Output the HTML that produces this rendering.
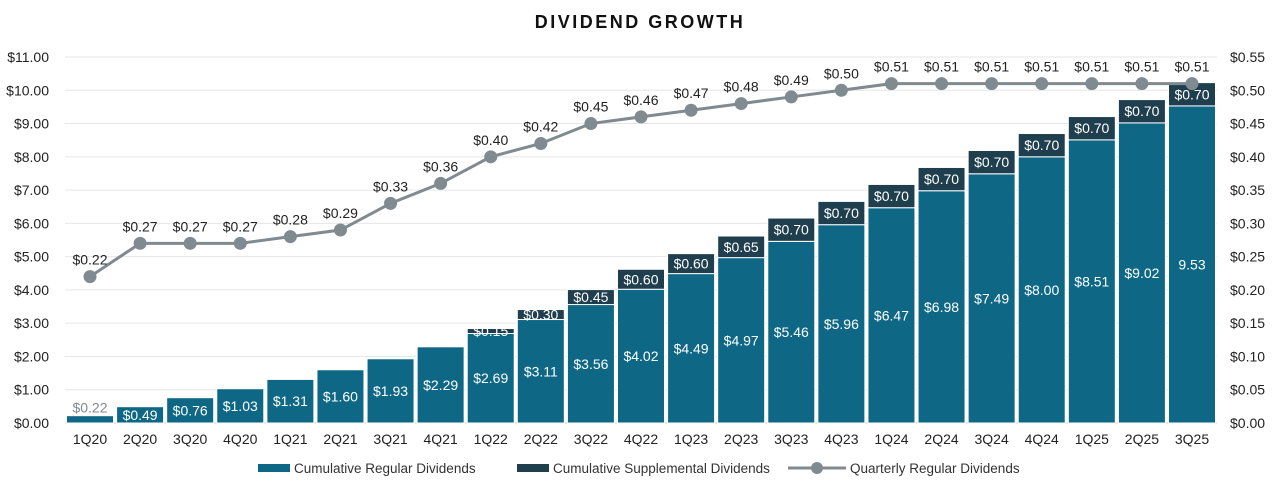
<!DOCTYPE html>
<html><head><meta charset="utf-8"><style>
body{margin:0;background:#fff;font-family:"Liberation Sans",sans-serif}
svg text{font-family:"Liberation Sans",sans-serif}
</style></head><body>
<svg id="c" width="1280" height="494" viewBox="0 0 1280 494">
<text x="640" y="28" text-anchor="middle" font-size="18" font-weight="bold" letter-spacing="2.5" fill="#111">DIVIDEND GROWTH</text>
<g id="grid"></g><g id="bars"></g><g id="line"></g><g id="axes"></g>
<g>
<rect x="258" y="464" width="32" height="8" fill="#0e6785"/>
<text x="294" y="473" font-size="13.5" fill="#333">Cumulative Regular Dividends</text>
<rect x="517" y="464" width="32" height="8" fill="#1f3f4f"/>
<text x="553" y="473" font-size="13.5" fill="#333">Cumulative Supplemental Dividends</text>
<line x1="788" y1="468" x2="846" y2="468" stroke="#808a91" stroke-width="3"/>
<circle cx="817" cy="468" r="6" fill="#808a91"/>
<text x="850" y="473" font-size="13.5" fill="#333">Quarterly Regular Dividends</text>
</g>
</svg>
<script>
const categories=["1Q20","2Q20","3Q20","4Q20","1Q21","2Q21","3Q21","4Q21","1Q22","2Q22","3Q22","4Q22","1Q23","2Q23","3Q23","4Q23","1Q24","2Q24","3Q24","4Q24","1Q25","2Q25","3Q25"];
const regular=[0.22,0.49,0.76,1.03,1.31,1.60,1.93,2.29,2.69,3.11,3.56,4.02,4.49,4.97,5.46,5.96,6.47,6.98,7.49,8.00,8.51,9.02,9.53];
const supplemental=[0,0,0,0,0,0,0,0,0.15,0.30,0.45,0.60,0.60,0.65,0.70,0.70,0.70,0.70,0.70,0.70,0.70,0.70,0.70];
const quarterly=[0.22,0.27,0.27,0.27,0.28,0.29,0.33,0.36,0.40,0.42,0.45,0.46,0.47,0.48,0.49,0.50,0.51,0.51,0.51,0.51,0.51,0.51,0.51];
const leftTicks=[0,1,2,3,4,5,6,7,8,9,10,11];
const rightTicks=[0,0.05,0.10,0.15,0.20,0.25,0.30,0.35,0.40,0.45,0.50,0.55];
const NS="http://www.w3.org/2000/svg";
const y0=423,y1=57,xl=65,xr=1217;
const yL=v=>y0-(v/11)*(y0-y1);
const yR=v=>y0-(v/0.55)*(y0-y1);
const step=(1192-90)/(categories.length-1);
const xC=i=>90+i*step;
const bw=47;
const FS=14;
function mk(tag,attrs,parent,txt){const e=document.createElementNS(NS,tag);for(const k in attrs)e.setAttribute(k,attrs[k]);if(txt!==undefined)e.textContent=txt;document.getElementById(parent).appendChild(e);return e;}
leftTicks.forEach(t=>{
 const g=mk("line",{x1:xl,x2:xr,y1:yL(t),y2:yL(t),stroke:t===0?"#d0d0d0":"#e6e6e6","stroke-width":1},"grid");
 
 
 const l=mk("text",{x:49,y:yL(t)+5,"text-anchor":"end","font-size":FS,fill:"#222"},"axes","$"+t.toFixed(2));
 
 
});
rightTicks.forEach(t=>{
 const l=mk("text",{x:1230,y:yR(t)+5,"font-size":FS,fill:"#222"},"axes","$"+t.toFixed(2));
 
 
});
categories.forEach((c,i)=>{
 const x=xC(i);
 const l=mk("text",{x:x,y:444,"text-anchor":"middle","font-size":FS,fill:"#222"},"axes",c);
 
 
 const r=mk("rect",{x:x-bw/2,y:yL(regular[i]),width:bw,height:y0-yL(regular[i]),fill:"#0e6785",stroke:"#fff","stroke-width":1},"bars");
 
 
 const tot=regular[i]+supplemental[i];
 if(supplemental[i]>0){
  const s=mk("rect",{x:x-bw/2,y:yL(tot),width:bw,height:yL(regular[i])-yL(tot),fill:"#1f3f4f",stroke:"#fff","stroke-width":1},"bars");
  
  
  const sl=mk("text",{x:x,y:(yL(tot)+yL(regular[i]))/2+5,"text-anchor":"middle","font-size":FS,fill:"#fff"},"bars","$"+supplemental[i].toFixed(2));
  
  
 }
 let ly,fill="#fff",txt=(i===categories.length-1?"":"$")+regular[i].toFixed(2);
 if(i===0){ly=yL(regular[i])-3;fill="#808a91";}
 else ly=(yL(regular[i])+y0)/2+5;
 const rl=mk("text",{x:x,y:ly,"text-anchor":"middle","font-size":FS,fill:fill},"bars",txt);
 
 
});
const pts=quarterly.map((v,i)=>xC(i)+","+yR(v)).join(" ");
const pl=mk("polyline",{points:pts,fill:"none",stroke:"#808a91","stroke-width":3},"line");


quarterly.forEach((v,i)=>{
 const c=mk("circle",{cx:xC(i),cy:yR(v),r:6.5,fill:"#808a91"},"line");
 
 
 const t=mk("text",{x:xC(i),y:yR(v)-12,"text-anchor":"middle","font-size":FS,fill:"#222"},"line","$"+v.toFixed(2));
 
 
});
</script>
</body></html>
